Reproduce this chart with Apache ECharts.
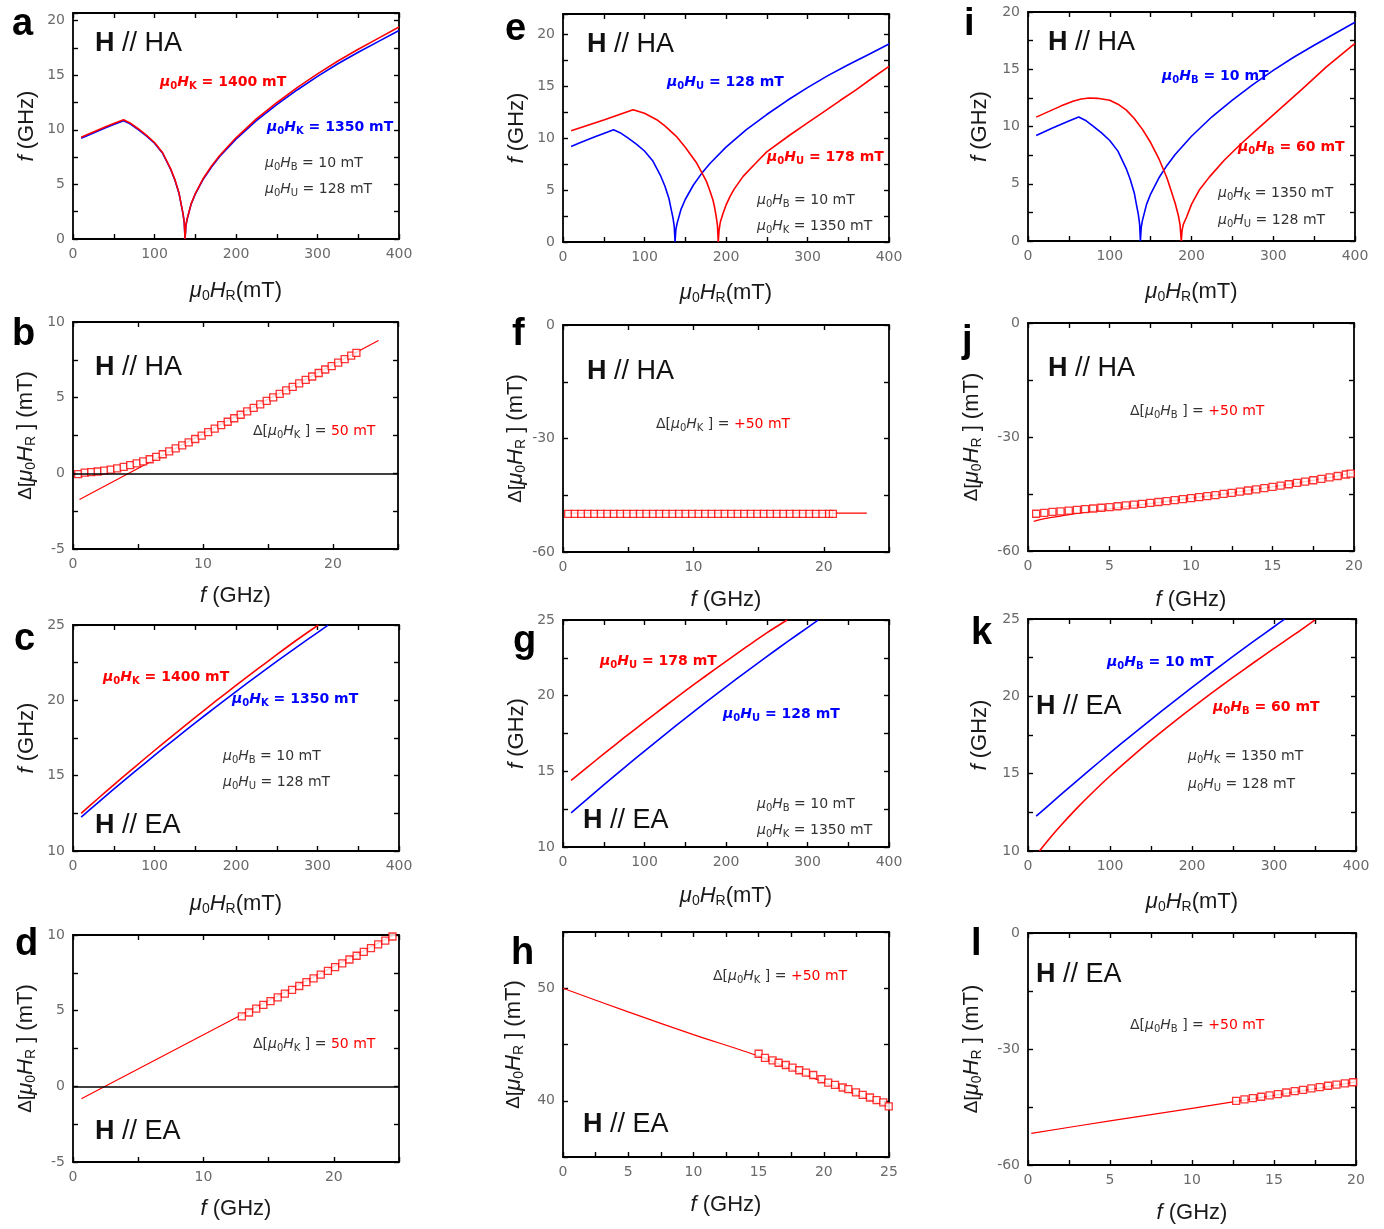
<!DOCTYPE html>
<html>
<head>
<meta charset="utf-8">
<script src="https://cdn.jsdelivr.net/npm/echarts@6/dist/echarts.min.js"></script>
<style>
  html, body { margin: 0; padding: 0; background: #fff; }
  #chart { width: 1384px; height: 1229px; }
</style>
</head>
<body>
<div id="chart"></div>
<script>
// ---------- Resonance field (mT) vs frequency (GHz) curves ----------
// Hard-axis dispersion, HK = 1350 mT, HU = 128 mT, HB = 10 mT (blue in a, e, i)
const haBlueH = [10, 20, 30, 40, 50, 62, 70, 80, 90, 100, 110, 120, 125, 130, 133, 135, 136.5, 137.5, 138.5, 140, 145, 150, 160, 170, 180, 200, 225, 250, 275, 300, 325, 350, 375, 400];
const haBlueF = [9.22, 9.55, 9.87, 10.18, 10.48, 10.83, 10.55, 10.02, 9.45, 8.78, 7.85, 6.35, 5.4, 4.2, 3.05, 2.3, 1.5, 0, 1.2, 1.8, 3.2, 4.1, 5.5, 6.6, 7.55, 9.15, 10.85, 12.3, 13.65, 14.9, 16.05, 17.1, 18.1, 19.1];
// Hard-axis, HK = 1400 mT (red in a)
const aRedH = haBlueH;
const aRedF = [9.32, 9.65, 9.97, 10.28, 10.58, 10.93, 10.63, 10.1, 9.52, 8.84, 7.9, 6.4, 5.44, 4.24, 3.08, 2.33, 1.52, 0, 1.22, 1.83, 3.24, 4.15, 5.57, 6.68, 7.65, 9.27, 11.0, 12.48, 13.86, 15.13, 16.3, 17.38, 18.4, 19.42];
// Hard-axis, HU = 178 mT (red in e)
const eRedH = [10, 50, 86, 100, 115, 125, 139, 150, 164, 170, 176, 180, 184, 186, 188, 189.5, 190.5, 191.5, 193, 196.5, 200, 205, 210, 221, 237.5, 250, 278, 300, 319, 340, 360, 380, 400];
const eRedF = [10.74, 11.78, 12.77, 12.42, 11.8, 11.2, 10.2, 9.15, 7.62, 6.75, 5.85, 5.0, 4.05, 3.35, 2.45, 1.6, 0, 1.15, 1.9, 2.8, 3.55, 4.4, 5.1, 6.33, 7.7, 8.7, 10.3, 11.5, 12.5, 13.65, 14.7, 15.85, 16.95];
// Hard-axis, HB = 60 mT (red in i)
const iRedH = [10, 25, 40, 55, 65, 75, 85, 100, 110, 120, 130, 140, 150, 160, 170, 175, 180, 184, 186, 187.5, 188.5, 190, 194, 200, 210, 222, 240, 260, 285, 310, 335, 365, 400];
const iRedF = [10.82, 11.3, 11.78, 12.2, 12.4, 12.49, 12.46, 12.29, 11.95, 11.45, 10.7, 9.75, 8.6, 7.2, 5.5, 4.4, 3.3, 2.2, 1.4, 0, 0.95, 1.45, 2.1, 3.2, 4.5, 5.6, 7.05, 8.45, 10.05, 11.65, 13.25, 15.2, 17.25];

// Easy-axis dispersion, reference parameters (blue in c, g, k)
const eaBlueH = [10, 30, 50, 75, 100, 125, 150, 175, 200, 225, 250, 275, 300, 313];
const eaBlueF = [12.25, 13.18, 14.1, 15.23, 16.34, 17.43, 18.5, 19.55, 20.58, 21.59, 22.58, 23.55, 24.5, 24.99];
const cRedH = [10, 30, 50, 75, 100, 125, 150, 175, 200, 225, 250, 275, 301];
const cRedF = [12.5, 13.45, 14.39, 15.54, 16.67, 17.78, 18.87, 19.94, 20.99, 22.02, 23.03, 24.02, 25.0];
const gRedH = [10, 30, 50, 75, 100, 125, 150, 175, 200, 225, 250, 275];
const gRedF = [14.4, 15.28, 16.15, 17.22, 18.27, 19.3, 20.31, 21.3, 22.27, 23.22, 24.15, 25.0];
const kRedH = [14, 25, 40, 60, 80, 100, 125, 150, 175, 200, 225, 250, 275, 300, 325, 350];
const kRedF = [10.0, 10.73, 11.65, 12.79, 13.85, 14.85, 16.02, 17.15, 18.22, 19.25, 20.25, 21.22, 22.17, 23.1, 24.0, 24.95];

// ---------- Shift of resonance field vs frequency ----------
const bSqF = [0.4, 0.9, 1.4, 1.9, 2.4, 2.9, 3.4, 3.9, 4.4, 4.9, 5.4, 5.9, 6.4, 6.9, 7.4, 7.9, 8.4, 8.9, 9.4, 9.9, 10.4, 10.9, 11.4, 11.9, 12.4, 12.9, 13.4, 13.9, 14.4, 14.9, 15.4, 15.9, 16.4, 16.9, 17.4, 17.9, 18.4, 18.9, 19.4, 19.9, 20.4, 20.9, 21.4, 21.8];
const bSqV = [-0.05, 0.05, 0.08, 0.12, 0.18, 0.25, 0.33, 0.43, 0.54, 0.66, 0.79, 0.93, 1.09, 1.26, 1.45, 1.65, 1.85, 2.05, 2.27, 2.49, 2.72, 2.95, 3.18, 3.41, 3.64, 3.87, 4.1, 4.33, 4.56, 4.79, 5.02, 5.25, 5.48, 5.71, 5.94, 6.17, 6.4, 6.63, 6.86, 7.09, 7.32, 7.55, 7.78, 7.96];
const bLineF = [0.5, 23.5];
const bLineV = [-1.73, 8.78];

const dSqF = [12.95, 13.5, 14.05, 14.6, 15.15, 15.7, 16.25, 16.8, 17.35, 17.9, 18.45, 19.0, 19.55, 20.1, 20.65, 21.2, 21.75, 22.3, 22.85, 23.4, 23.95, 24.5];
const dSqV = [4.62, 4.88, 5.13, 5.38, 5.63, 5.88, 6.13, 6.38, 6.63, 6.88, 7.13, 7.38, 7.63, 7.88, 8.13, 8.38, 8.63, 8.88, 9.13, 9.38, 9.63, 9.9];
const dLineF = [0.64, 24.6];
const dLineV = [-0.82, 10.0];

const fSqF = [0.4, 0.9, 1.4, 1.9, 2.4, 2.9, 3.4, 3.9, 4.4, 4.9, 5.4, 5.9, 6.4, 6.9, 7.4, 7.9, 8.4, 8.9, 9.4, 9.9, 10.4, 10.9, 11.4, 11.9, 12.4, 12.9, 13.4, 13.9, 14.4, 14.9, 15.4, 15.9, 16.4, 16.9, 17.4, 17.9, 18.4, 18.9, 19.4, 19.9, 20.4, 20.7];
const fSqV = [-49.9, -49.9, -49.9, -49.9, -49.9, -49.9, -49.9, -49.9, -49.9, -49.9, -49.9, -49.9, -49.9, -49.9, -49.9, -49.9, -49.9, -49.9, -49.9, -49.9, -49.9, -49.9, -49.9, -49.9, -49.9, -49.9, -49.9, -49.9, -49.9, -49.9, -49.9, -49.9, -49.9, -49.9, -49.9, -49.9, -49.9, -49.9, -49.9, -49.9, -49.9, -49.9];
const fLineF = [0.4, 23.3];
const fLineV = [-49.75, -49.75];

const hSqF = [15.0, 15.49, 16.07, 16.53, 17.09, 17.6, 18.12, 18.63, 19.19, 19.83, 20.34, 20.86, 21.45, 21.88, 22.47, 22.98, 23.54, 24.05, 24.56, 24.98];
const hSqV = [44.18, 43.82, 43.59, 43.38, 43.18, 42.94, 42.71, 42.5, 42.29, 41.91, 41.62, 41.41, 41.18, 41.03, 40.74, 40.53, 40.29, 40.06, 39.85, 39.5];
const hLineF = [0, 5, 10, 15, 20, 25];
const hLineV = [50.0, 47.9, 45.88, 43.97, 41.65, 39.45];

const jSqF = [0.5, 1.0, 1.5, 2.0, 2.5, 3.0, 3.5, 4.0, 4.5, 5.0, 5.5, 6.0, 6.5, 7.0, 7.5, 8.0, 8.5, 9.0, 9.5, 10.0, 10.5, 11.0, 11.5, 12.0, 12.5, 13.0, 13.5, 14.0, 14.5, 15.0, 15.5, 16.0, 16.5, 17.0, 17.5, 18.0, 18.5, 19.0, 19.5, 19.8];
const jSqV = [-50.2, -49.95, -49.72, -49.55, -49.38, -49.2, -49.0, -48.81, -48.62, -48.43, -48.22, -48.01, -47.8, -47.58, -47.35, -47.11, -46.87, -46.62, -46.36, -46.1, -45.83, -45.56, -45.27, -44.99, -44.69, -44.39, -44.08, -43.77, -43.45, -43.12, -42.78, -42.44, -42.09, -41.74, -41.38, -41.01, -40.64, -40.26, -39.87, -39.64];
const jLineF = [0.35, 1, 2, 3, 4, 5, 7.5, 10, 12.5, 15, 17.5, 20];
const jLineV = [-52.2, -51.5, -50.8, -50.1, -49.5, -48.9, -47.5, -46.1, -44.7, -43.1, -41.4, -39.4];

const lSqF = [12.69, 13.2, 13.71, 14.22, 14.73, 15.24, 15.75, 16.26, 16.77, 17.28, 17.79, 18.3, 18.81, 19.32, 19.83];
const lSqV = [-43.44, -43.05, -42.7, -42.35, -42.0, -41.65, -41.25, -40.9, -40.55, -40.2, -39.85, -39.5, -39.2, -38.9, -38.6];
const lLineF = [0.2, 5, 10, 15, 20];
const lLineV = [-51.8, -48.6, -45.35, -42.0, -38.5];

// ---------- Tick labels ----------
const fieldTicks = [0, 100, 200, 300, 400];
const freqTicks10 = [0, 10, 20];
const freqTicks5 = [0, 5, 10, 15, 20, 25];
const haFreqTicks = [0, 5, 10, 15, 20];
const eaFreqTicks = [10, 15, 20, 25];
const smallShiftTicks = [-5, 0, 5, 10];
const bigShiftTicks = [-60, -30, 0];
const eaShiftTicks = [40, 50];

// ---------- Styling ----------
const RED = '#ff0000', BLUE = '#0000ff', INK = '#1a1a1a', NOTE = '#333333';
const TICK_LABEL = { fontFamily: 'DejaVu Sans', fontSize: 14, color: '#6a6a6a' };
const AX_LINE = { show: true, onZero: false, lineStyle: { color: '#000', width: 1.8 } };
const AX_TICK = { show: true, inside: true, length: 5, lineStyle: { color: '#000', width: 1.4 } };
const NAME_RICH = {
  n: { fontFamily: 'Liberation Sans', fontSize: 22, color: INK },
  i: { fontFamily: 'Liberation Sans', fontSize: 22, fontStyle: 'italic', color: INK },
  s: { fontFamily: 'Liberation Sans', fontSize: 14, color: INK, padding: [11, 0, 0, 0] },
  d: { fontFamily: 'Liberation Sans', fontSize: 19, color: INK }
};
const FIELD_NAME = '{i|μ}{s|0}{i|H}{s|R}{n|(mT)}';
const FREQ_NAME = '{i|f}{n| (GHz)}';
const SHIFT_NAME = '{d|Δ[}{i|μ}{s|0}{i|H}{s|R}{n| ] (mT)}';

const option = {
  animation: false,
  backgroundColor: '#ffffff',
  grid: [], xAxis: [], yAxis: [], series: [], graphic: []
};

function showOnly(list) {
  return v => list.some(t => Math.abs(t - v) < 1e-9) ? String(v) : '';
}

function addPanel(p) {
  const gi = option.grid.length;
  option.grid.push({ left: p.box[0], top: p.box[1], width: p.box[2], height: p.box[3] });
  const xi = option.xAxis.length, yi = option.yAxis.length;
  const xBase = { type: 'value', gridIndex: gi, min: p.x[0], max: p.x[1], interval: p.x[2],
    axisLine: AX_LINE, axisTick: AX_TICK, splitLine: { show: false } };
  const yBase = { type: 'value', gridIndex: gi, min: p.y[0], max: p.y[1], interval: p.y[2],
    axisLine: AX_LINE, axisTick: AX_TICK, splitLine: { show: false } };
  option.xAxis.push(Object.assign({}, xBase, {
    position: 'bottom',
    axisLabel: Object.assign({ margin: 8, formatter: showOnly(p.xLabels) }, TICK_LABEL),
    name: p.xName, nameLocation: 'middle', nameGap: p.xGap, nameTextStyle: { rich: NAME_RICH }
  }));
  option.xAxis.push(Object.assign({}, xBase, { position: 'top', axisLabel: { show: false } }));
  option.yAxis.push(Object.assign({}, yBase, {
    position: 'left',
    axisLabel: Object.assign({ margin: 8, formatter: showOnly(p.yLabels) }, TICK_LABEL),
    name: p.yName, nameLocation: 'middle', nameRotate: 90, nameGap: p.yGap, nameTextStyle: { rich: NAME_RICH }
  }));
  option.yAxis.push(Object.assign({}, yBase, { position: 'right', axisLabel: { show: false } }));
  return { xi, yi };
}

function pairs(xs, ys) { return xs.map((x, k) => [x, ys[k]]); }

function addCurve(ax, xs, ys, color, width, smooth) {
  option.series.push({
    type: 'line', xAxisIndex: ax.xi, yAxisIndex: ax.yi, data: pairs(xs, ys),
    symbol: 'none', showSymbol: false, clip: true, z: 3, smooth: smooth || false,
    lineStyle: { color, width: width || 1.6 }, itemStyle: { color }
  });
}

function addSquares(ax, xs, ys) {
  option.series.push({
    type: 'scatter', xAxisIndex: ax.xi, yAxisIndex: ax.yi, data: pairs(xs, ys),
    symbol: 'rect', symbolSize: 7, z: 4,
    itemStyle: { color: '#ffffff', borderColor: RED, borderWidth: 1.3 }
  });
}

function addZeroLine(ax) {
  option.series.push({
    type: 'line', xAxisIndex: ax.xi, yAxisIndex: ax.yi, data: [], z: 2,
    markLine: { silent: true, symbol: 'none', label: { show: false }, animation: false,
      lineStyle: { color: '#000', width: 1.5, type: 'solid' }, data: [{ yAxis: 0 }] }
  });
}

// ---------- Text annotations ----------
function addText(x, y, text, rich) {
  option.graphic.push({
    type: 'text', x, y, silent: true, z: 10,
    style: { text, rich, align: 'left', verticalAlign: 'middle', textAlign: 'left', textVerticalAlign: 'middle' }
  });
}
function noteRich(color, bold) {
  const w = bold ? 'bold' : 'normal';
  return {
    i: { fontFamily: 'DejaVu Sans', fontSize: 14, fontStyle: 'italic', fontWeight: w, fill: color },
    s: { fontFamily: 'DejaVu Sans', fontSize: 10, fontWeight: w, fill: color, padding: [8, 0, 0, 0] },
    n: { fontFamily: 'DejaVu Sans', fontSize: 14, fontWeight: w, fill: color },
    r: { fontFamily: 'DejaVu Sans', fontSize: 14, fontWeight: w, fill: RED }
  };
}
const RICH_RED = noteRich(RED, true), RICH_BLUE = noteRich(BLUE, true), RICH_NOTE = noteRich(NOTE, false);
const TAG_RICH = {
  b: { fontFamily: 'Liberation Sans', fontSize: 27, fontWeight: 'bold', fill: '#111' },
  n: { fontFamily: 'Liberation Sans', fontSize: 27, fill: '#111' }
};
const LETTER_RICH = { L: { fontFamily: 'Liberation Sans', fontSize: 38, fontWeight: 'bold', fill: '#000' } };

function param(sub, rest) { return '{i|μ}{s|0}{i|H}{s|' + sub + '}{n| = ' + rest + '}'; }
function shift(sub, amount) { return '{n|Δ[}{i|μ}{s|0}{i|H}{s|' + sub + '}{n| ] = }{r|' + amount + '}'; }
function tag(axisName) { return '{b|H}{n| // ' + axisName + '}'; }
function letter(x, y, ch) { addText(x, y, '{L|' + ch + '}', LETTER_RICH); }

// ---------- Panels ----------
const fieldX = [0, 400, 50];
const pa = addPanel({ box: [73, 13, 326, 226], x: fieldX, y: [0, 20.7, 2.5], xLabels: fieldTicks, yLabels: haFreqTicks,
  xName: FIELD_NAME, xGap: 39, yName: FREQ_NAME, yGap: 35 });
const pb = addPanel({ box: [73, 322, 325, 227], x: [0, 25, 5], y: [-5, 10, 2.5], xLabels: freqTicks10, yLabels: smallShiftTicks,
  xName: FREQ_NAME, xGap: 36, yName: SHIFT_NAME, yGap: 35 });
const pc = addPanel({ box: [73, 625, 326, 226], x: fieldX, y: [10, 25, 2.5], xLabels: fieldTicks, yLabels: eaFreqTicks,
  xName: FIELD_NAME, xGap: 40, yName: FREQ_NAME, yGap: 35 });
const pd = addPanel({ box: [73, 935, 326, 227], x: [0, 25, 5], y: [-5, 10, 2.5], xLabels: freqTicks10, yLabels: smallShiftTicks,
  xName: FREQ_NAME, xGap: 36, yName: SHIFT_NAME, yGap: 35 });
const pe = addPanel({ box: [563, 14, 326, 228], x: fieldX, y: [0, 22, 2.5], xLabels: fieldTicks, yLabels: haFreqTicks,
  xName: FIELD_NAME, xGap: 38, yName: FREQ_NAME, yGap: 35 });
const pf = addPanel({ box: [563, 325, 326, 227], x: [0, 25, 5], y: [-60, 0, 15], xLabels: freqTicks10, yLabels: bigShiftTicks,
  xName: FREQ_NAME, xGap: 37, yName: SHIFT_NAME, yGap: 35 });
const pg = addPanel({ box: [563, 620, 326, 227], x: fieldX, y: [10, 25, 2.5], xLabels: fieldTicks, yLabels: eaFreqTicks,
  xName: FIELD_NAME, xGap: 36, yName: FREQ_NAME, yGap: 35 });
const ph = addPanel({ box: [563, 932, 326, 225], x: [0, 25, 2.5], y: [35, 55, 5], xLabels: freqTicks5, yLabels: eaShiftTicks,
  xName: FREQ_NAME, xGap: 37, yName: SHIFT_NAME, yGap: 37 });
const pi = addPanel({ box: [1028, 12, 327, 229], x: fieldX, y: [0, 20, 2.5], xLabels: fieldTicks, yLabels: haFreqTicks,
  xName: FIELD_NAME, xGap: 38, yName: FREQ_NAME, yGap: 37 });
const pj = addPanel({ box: [1028, 323, 326, 228], x: [0, 20, 2.5], y: [-60, 0, 15], xLabels: haFreqTicks, yLabels: bigShiftTicks,
  xName: FREQ_NAME, xGap: 38, yName: SHIFT_NAME, yGap: 44 });
const pk = addPanel({ box: [1028, 619, 328, 232], x: fieldX, y: [10, 25, 2.5], xLabels: fieldTicks, yLabels: eaFreqTicks,
  xName: FIELD_NAME, xGap: 38, yName: FREQ_NAME, yGap: 37 });
const pl = addPanel({ box: [1028, 933, 328, 232], x: [0, 20, 2.5], y: [-60, 0, 15], xLabels: haFreqTicks, yLabels: bigShiftTicks,
  xName: FREQ_NAME, xGap: 37, yName: SHIFT_NAME, yGap: 44 });

// a: hard axis, two anisotropy fields
addCurve(pa, haBlueH, haBlueF, BLUE);
addCurve(pa, aRedH, aRedF, RED);
// b
addZeroLine(pb);
addCurve(pb, bLineF, bLineV, RED, 1.2);
addSquares(pb, bSqF, bSqV);
// c
addCurve(pc, cRedH, cRedF, RED, 1.6, 0.3);
addCurve(pc, eaBlueH, eaBlueF, BLUE, 1.6, 0.3);
// d
addZeroLine(pd);
addCurve(pd, dLineF, dLineV, RED, 1.2);
addSquares(pd, dSqF, dSqV);
// e
addCurve(pe, haBlueH, haBlueF, BLUE);
addCurve(pe, eRedH, eRedF, RED);
// f
addCurve(pf, fLineF, fLineV, RED, 1.2);
addSquares(pf, fSqF, fSqV);
// g
addCurve(pg, gRedH, gRedF, RED, 1.6, 0.3);
addCurve(pg, eaBlueH, eaBlueF, BLUE, 1.6, 0.3);
// h
addCurve(ph, hLineF, hLineV, RED, 1.2, 0.3);
addSquares(ph, hSqF, hSqV);
// i
addCurve(pi, haBlueH, haBlueF, BLUE);
addCurve(pi, iRedH, iRedF, RED);
// j
addCurve(pj, jLineF, jLineV, RED, 1.2, 0.3);
addSquares(pj, jSqF, jSqV);
// k
addCurve(pk, eaBlueH, eaBlueF, BLUE, 1.6, 0.3);
addCurve(pk, kRedH, kRedF, RED, 1.6, 0.3);
// l
addCurve(pl, lLineF, lLineV, RED, 1.2, 0.3);
addSquares(pl, lSqF, lSqV);

// Panel letters
letter(12, 25, 'a');  letter(12, 335, 'b'); letter(14, 640, 'c'); letter(15, 945, 'd');
letter(505, 30, 'e'); letter(512, 335, 'f'); letter(513, 642, 'g'); letter(511, 954, 'h');
letter(964, 25, 'i'); letter(962, 342, 'j'); letter(971, 634, 'k'); letter(971, 945, 'l');

// Field orientation tags
addText(95, 44, tag('HA'), TAG_RICH);
addText(95, 368, tag('HA'), TAG_RICH);
addText(95, 826, tag('EA'), TAG_RICH);
addText(95, 1132, tag('EA'), TAG_RICH);
addText(587, 45, tag('HA'), TAG_RICH);
addText(587, 372, tag('HA'), TAG_RICH);
addText(583, 821, tag('EA'), TAG_RICH);
addText(583, 1125, tag('EA'), TAG_RICH);
addText(1048, 43, tag('HA'), TAG_RICH);
addText(1048, 369, tag('HA'), TAG_RICH);
addText(1036, 707, tag('EA'), TAG_RICH);
addText(1036, 975, tag('EA'), TAG_RICH);

// Parameter notes
addText(160, 82, param('K', '1400 mT'), RICH_RED);
addText(267, 127, param('K', '1350 mT'), RICH_BLUE);
addText(265, 163, param('B', '10 mT'), RICH_NOTE);
addText(265, 189, param('U', '128 mT'), RICH_NOTE);

addText(253, 431, shift('K', '50 mT'), RICH_NOTE);

addText(103, 677, param('K', '1400 mT'), RICH_RED);
addText(232, 699, param('K', '1350 mT'), RICH_BLUE);
addText(223, 756, param('B', '10 mT'), RICH_NOTE);
addText(223, 782, param('U', '128 mT'), RICH_NOTE);

addText(253, 1044, shift('K', '50 mT'), RICH_NOTE);

addText(667, 82, param('U', '128 mT'), RICH_BLUE);
addText(767, 157, param('U', '178 mT'), RICH_RED);
addText(757, 200, param('B', '10 mT'), RICH_NOTE);
addText(757, 226, param('K', '1350 mT'), RICH_NOTE);

addText(656, 424, shift('K', '+50 mT'), RICH_NOTE);

addText(600, 661, param('U', '178 mT'), RICH_RED);
addText(723, 714, param('U', '128 mT'), RICH_BLUE);
addText(757, 804, param('B', '10 mT'), RICH_NOTE);
addText(757, 830, param('K', '1350 mT'), RICH_NOTE);

addText(713, 976, shift('K', '+50 mT'), RICH_NOTE);

addText(1162, 76, param('B', '10 mT'), RICH_BLUE);
addText(1238, 147, param('B', '60 mT'), RICH_RED);
addText(1218, 193, param('K', '1350 mT'), RICH_NOTE);
addText(1218, 220, param('U', '128 mT'), RICH_NOTE);

addText(1130, 411, shift('B', '+50 mT'), RICH_NOTE);

addText(1107, 662, param('B', '10 mT'), RICH_BLUE);
addText(1213, 707, param('B', '60 mT'), RICH_RED);
addText(1188, 756, param('K', '1350 mT'), RICH_NOTE);
addText(1188, 784, param('U', '128 mT'), RICH_NOTE);

addText(1130, 1025, shift('B', '+50 mT'), RICH_NOTE);

const chart = echarts.init(document.getElementById('chart'), null, { renderer: 'canvas' });
chart.setOption(option);
</script>
</body>
</html>
